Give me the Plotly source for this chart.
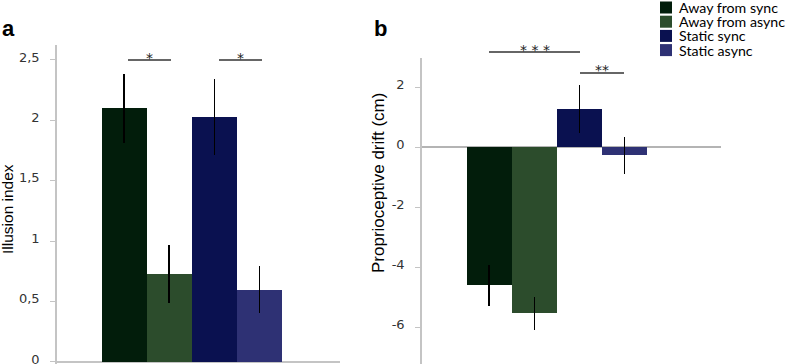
import plotly.graph_objects as go

W, H = 787, 364

# ---- data ----
series = ["Away from sync", "Away from async", "Static sync", "Static async"]
colors = ["#021d0b", "#2c4c2c", "#0a1150", "#2e3174"]

illusion = [2.10, 0.73, 2.03, 0.60]
illusion_err = [0.285, 0.24, 0.315, 0.195]
illusion_ticks = [0, 0.5, 1, 1.5, 2, 2.5]
illusion_ticktext = ["0", "0,5", "1", "1,5", "2", "2,5"]

drift = [-4.61, -5.54, 1.27, -0.28]
drift_err = [0.69, 0.55, 0.79, 0.62]
drift_ticks = [-6, -4, -2, 0, 2]
drift_ticktext = ["-6", "-4", "-2", "0", "2"]


def px(x):
    return x / W


def py(y):
    return 1 - y / H


fig = go.Figure()

fig.add_trace(go.Bar(
    x=series, y=illusion, width=1, marker=dict(color=colors, line=dict(width=0)),
    error_y=dict(type="data", array=illusion_err, color="#000000", thickness=1.5, width=0),
    xaxis="x", yaxis="y", showlegend=False))

fig.add_trace(go.Bar(
    x=series, y=drift, width=1, marker=dict(color=colors, line=dict(width=0)),
    error_y=dict(type="data", array=drift_err, color="#000000", thickness=1.5, width=0),
    xaxis="x2", yaxis="y2", showlegend=False))

axis_gray = "#c4c4c4"
tickfont = dict(family="DejaVu Sans", size=13, color="#333333")

fig.update_layout(
    width=W, height=H, margin=dict(l=0, r=0, t=0, b=0, autoexpand=False),
    paper_bgcolor="white", plot_bgcolor="white",
    separators=", ",
    bargap=0,
    xaxis=dict(domain=[px(57), px(340)], type="category", range=[-1.49, 4.79],
               visible=False, automargin=False),
    yaxis=dict(domain=[0, py(45)], range=[-0.0166, 2.624], anchor="x", automargin=False,
               showline=True, linecolor=axis_gray, linewidth=1.5,
               showgrid=False, zeroline=True, zerolinecolor=axis_gray, zerolinewidth=1.5,
               tickvals=illusion_ticks, ticktext=illusion_ticktext,
               ticks="outside", ticklen=5, tickcolor=axis_gray, tickwidth=1,
               ticklabelstandoff=8, ticklabelshift=-3, tickfont=tickfont,
               ticklabeloverflow="allow"),
    xaxis2=dict(domain=[px(422), px(721)], type="category", range=[-1.49, 5.14],
                visible=False, anchor="y2", automargin=False),
    yaxis2=dict(domain=[0, py(58)], range=[-7.233, 2.967], anchor="x2", automargin=False,
                showline=True, linecolor=axis_gray, linewidth=1.5,
                showgrid=False, zeroline=True, zerolinecolor="#b4b4b4", zerolinewidth=1.5,
                tickvals=drift_ticks, ticktext=drift_ticktext,
                ticks="outside", ticklen=5, tickcolor=axis_gray, tickwidth=1,
                ticklabelstandoff=8, ticklabelshift=-3, tickfont=tickfont,
                ticklabeloverflow="allow"),
)

annotations = []
shapes = []

# panel labels
annotations.append(dict(text="<b>a</b>", x=px(0), y=py(29), xref="paper", yref="paper",
                        xanchor="left", yanchor="middle", showarrow=False,
                        font=dict(family="Liberation Sans", size=22, color="black")))
annotations.append(dict(text="<b>b</b>", x=px(372), y=py(29), xref="paper", yref="paper",
                        xanchor="left", yanchor="middle", showarrow=False,
                        font=dict(family="Liberation Sans", size=22, color="black")))

# axis titles
annotations.append(dict(text="Illusion index", x=px(8), y=py(209), xref="paper", yref="paper",
                        textangle=-90, showarrow=False, xanchor="center", yanchor="middle",
                        font=dict(family="Liberation Sans", size=15.5, color="black")))
annotations.append(dict(text="Proprioceptive drift (cm)", x=px(378), y=py(183), xref="paper",
                        yref="paper", textangle=-90, showarrow=False, xanchor="center",
                        yanchor="middle",
                        font=dict(family="Liberation Sans", size=17, color="black")))

# significance markers
sig = [
    (128, 171, 60, "*", 58.5),
    (219, 262, 60, "*", 58.5),
    (489, 580, 52, "* * *", 50.5),
    (580, 624, 73, "**", 69.5),
]
for x0, x1, yl, txt, yt in sig:
    shapes.append(dict(type="line", xref="paper", yref="paper", x0=px(x0), x1=px(x1),
                       y0=py(yl), y1=py(yl), line=dict(color="#333333", width=1.5)))
    annotations.append(dict(text=txt, x=px((x0 + x1) / 2), y=py(yt), xref="paper",
                            yref="paper", showarrow=False, xanchor="center", yanchor="middle",
                            font=dict(family="DejaVu Sans", size=14, color="#222222")))

# legend (manual, tight spacing)
for i, (name, col) in enumerate(zip(series, colors)):
    yc = 7.5 + 14.2 * i
    shapes.append(dict(type="rect", xref="paper", yref="paper", x0=px(660), x1=px(672),
                       y0=py(yc - 6), y1=py(yc + 6), fillcolor=col, line=dict(width=0)))
    annotations.append(dict(text=name, x=px(677), y=py(yc), xref="paper", yref="paper",
                            showarrow=False, xanchor="left", yanchor="middle",
                            font=dict(family="Lato", size=14.2, color="black")))

fig.update_layout(annotations=annotations, shapes=shapes)

fig.write_html("out.html", config={"displayModeBar": False},
               post_script="document.body.style.margin='0';document.body.style.overflow='hidden';")
